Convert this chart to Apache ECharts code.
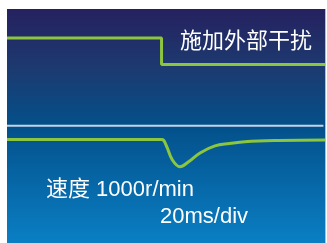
<!DOCTYPE html>
<html>
<head>
<meta charset="utf-8">
<script src="https://cdn.jsdelivr.net/npm/echarts@6/dist/echarts.min.js"></script>
<style>
  html, body { margin: 0; padding: 0; background: #fff; }
  #chart { width: 327px; height: 243px; }
</style>
</head>
<body>
<div id="chart"></div>
<script>
// time axis 0..100, level axis 0..100
const disturbX = [0, 48.6, 48.6, 100];
const disturbY = [87.6, 87.6, 76.3, 76.3];
const speedX = [0, 48.7, 50, 52, 54.4, 57, 60.7, 65.4, 70, 74.8, 85, 100];
const speedY = [44.2, 44.2, 41.9, 35.5, 32.6, 34.6, 38.5, 41.5, 42.5, 43.3, 43.8, 44.0];
const dividerX = [0, 99.5];
const dividerY = [50.1, 50.1];
const labels = ['施加外部干扰', '速度 1000r/min', '20ms/div'];

const zip = (xs, ys) => xs.map((x, i) => [x, ys[i]]);

const chart = echarts.init(document.getElementById('chart'));
chart.setOption({
    animation: false,
    grid: { left: 7, right: 2, top: 9, bottom: 0 },
    xAxis: { type: 'value', min: 0, max: 100, show: false },
    yAxis: { type: 'value', min: 0, max: 100, show: false },
    graphic: [
        {
            type: 'rect',
            z: -10,
            shape: { x: 7, y: 9, width: 318, height: 234 },
            style: {
                fill: new echarts.graphic.LinearGradient(0, 0, 0, 1, [
                    { offset: 0, color: '#25215f' },
                    { offset: 0.25, color: '#1d3a70' },
                    { offset: 0.5, color: '#03508a' },
                    { offset: 1, color: '#0a7fc4' }
                ])
            }
        },
        {
            type: 'rect',
            z: -10,
            shape: { x: 325, y: 9, width: 1, height: 234 },
            style: { fill: '#b8bcc4' }
        },
        {
            type: 'text', left: 180, top: 29,
            style: { text: labels[0], fill: '#fff', font: '22px "Noto Sans CJK SC", sans-serif' }
        },
        {
            type: 'text', left: 46, top: 179,
            style: { text: labels[1], fill: '#fff', font: '22px "Liberation Sans", "Noto Sans CJK SC", sans-serif' }
        },
        {
            type: 'text', left: 160, top: 206,
            style: { text: labels[2], fill: '#fff', font: '22px "Liberation Sans", sans-serif' }
        }
    ],
    series: [
        {
            type: 'line',
            data: zip(dividerX, dividerY),
            symbol: 'none',
            lineStyle: { color: '#c6d3e6', width: 2 }
        },
        {
            type: 'line',
            data: zip(disturbX, disturbY),
            symbol: 'none',
            lineStyle: { color: '#8cc63f', width: 3 }
        },
        {
            type: 'line',
            data: zip(speedX, speedY),
            symbol: 'none',
            smooth: 0.4,
            lineStyle: { color: '#8cc63f', width: 3 }
        }
    ]
});
</script>
</body>
</html>
